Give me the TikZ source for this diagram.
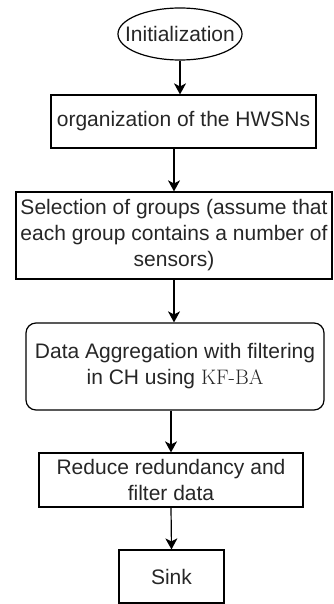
\documentclass[tikz,border=0pt]{standalone}
\usepackage{fontspec}
\setsansfont{Liberation Sans}
\usepackage{tikz}
\usetikzlibrary{shapes.geometric,arrows.meta}

\begin{document}
\begin{tikzpicture}[x=1pt, y=-1pt,
        every node/.style={font=\sffamily\fontsize{21}{26}\selectfont, text=black!85, align=center, inner sep=0pt, line width=1.2pt},
        box/.style={draw, rectangle, minimum height=53pt},
        oval/.style={draw, ellipse, inner xsep=-11pt, inner ysep=0pt, minimum width=124pt, minimum height=52pt},
        arrow/.style={-{Stealth[length=11pt,width=12pt,inset=3pt]}, line width=1.2pt}]
        \useasboundingbox (0,0) rectangle (333,604);
        \node[oval] (init) at (180,34) {Initialization};
        \node[box, minimum width=265pt] (org) at (183.5,121.5) {organization of the HWSNs};
        \node[box, minimum width=316pt, minimum height=87pt] (sel) at (174,235.5) {Selection of groups (assume that\\each group contains a number of\\sensors)};
        \node[box, rounded corners=10pt, minimum width=298pt, minimum height=87pt] (agg) at (175,366.5) {Data Aggregation with filtering\\in CH using \textrm{KF-BA}};
        \node[box, minimum width=264pt, minimum height=54pt] (red) at (171,480) {Reduce redundancy and\\filter data};
        \node[box, minimum width=105pt] (sink) at (171.5,576.5) {Sink};
        % flow from top to sink
        \draw[arrow] (init.south) -- (init.south |- org.north);
        \draw[arrow] (org.south -| sel.north) -- (sel.north);
        \draw[arrow] (sel.south) -- (sel.south |- agg.north);
        \draw[arrow] (agg.south -| red.north) -- (red.north);
        \draw[arrow] (red.south) -- (sink.north);
    \end{tikzpicture}
\end{document}
